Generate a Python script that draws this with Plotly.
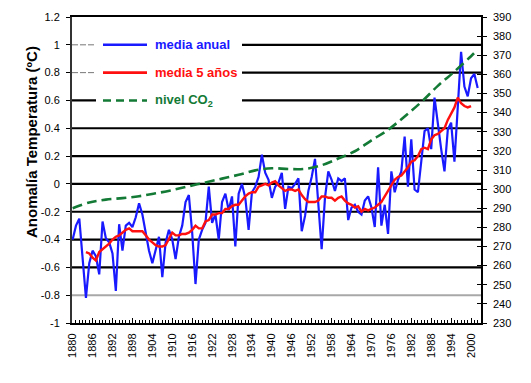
import plotly.graph_objects as go

# ---------------- data ----------------
years = list(range(1880, 2003))
annual = [
    -0.40, -0.30, -0.25, -0.55, -0.82, -0.57, -0.48, -0.52, -0.65, -0.27,
    -0.39, -0.42, -0.50, -0.77, -0.29, -0.48, -0.30, -0.28, -0.31, -0.24,
    -0.14, -0.22, -0.36, -0.48, -0.57, -0.48, -0.38, -0.67, -0.42, -0.33,
    -0.40, -0.54, -0.38, -0.30, -0.13, -0.08, -0.35, -0.72, -0.40, -0.33,
    -0.28, -0.02, -0.28, -0.22, -0.40, -0.13, -0.07, -0.19, -0.09, -0.45,
    -0.07, 0.00, -0.10, -0.33, -0.06, -0.02, 0.05, 0.21, 0.08, 0.03,
    -0.10, -0.02, 0.01, 0.08, -0.18, -0.02, -0.03, 0.00, 0.04, -0.34,
    -0.23, -0.05, 0.05, 0.18, -0.15, -0.47, -0.10, 0.09, 0.03, -0.05,
    0.04, 0.02, 0.04, -0.26, -0.17, -0.15, -0.20, -0.22, -0.12, -0.09,
    -0.17, -0.31, 0.12, -0.30, -0.15, -0.36, 0.09, -0.06, 0.03, 0.09,
    0.34, -0.02, 0.32, -0.04, -0.06, 0.14, 0.38, 0.40, 0.25, 0.62,
    0.42, 0.25, 0.09, 0.39, 0.44, 0.16, 0.55, 0.95, 0.70, 0.63,
    0.76, 0.79, 0.69,
]

years5 = list(range(1884, 2001))
mean5 = [
    -0.49, -0.50, -0.53, -0.55, -0.49, -0.47,
    -0.45, -0.43, -0.40, -0.38, -0.37, -0.35, -0.33, -0.32, -0.34, -0.34,
    -0.34, -0.34, -0.37, -0.40, -0.42, -0.44, -0.45, -0.45, -0.44, -0.40,
    -0.35, -0.37, -0.37, -0.36, -0.36, -0.35, -0.33, -0.30, -0.32, -0.32,
    -0.27, -0.26, -0.22, -0.22, -0.21, -0.21, -0.18, -0.18, -0.16, -0.15,
    -0.15, -0.12, -0.09, -0.07, -0.06, -0.06, -0.02, -0.01, 0.00, -0.01,
    0.01, 0.02, -0.01, -0.03, -0.05, -0.04, -0.04, -0.05, -0.04, -0.08,
    -0.11, -0.13, -0.13, -0.13, -0.12, -0.09, -0.09, -0.10, -0.10, -0.12,
    -0.10, -0.09, -0.12, -0.14, -0.15, -0.17, -0.16, -0.20, -0.18, -0.19,
    -0.18, -0.17, -0.15, -0.13, -0.09, -0.05, -0.02, 0.03, 0.05, 0.06,
    0.09, 0.12, 0.16, 0.17, 0.20, 0.25, 0.26, 0.25, 0.32, 0.35,
    0.36, 0.38, 0.40, 0.46, 0.50, 0.55, 0.62, 0.58, 0.56, 0.55,
    0.56,
]

co2_years = [1880, 1885, 1890, 1895, 1900, 1905, 1910, 1915, 1920, 1925, 1930,
             1935, 1940, 1945, 1950, 1955, 1960, 1965, 1970, 1975, 1980,
             1985, 1990, 1995, 2000, 2002]
co2 = [290.0, 293.0, 294.5, 295.3, 296.3, 297.8, 299.5, 301.5, 303.5, 305.5, 307.5,
       309.8, 310.9, 310.5, 310.6, 312.5, 316.0, 319.8, 325.5, 331.0, 338.0,
       345.5, 354.0, 361.5, 369.5, 373.0]

x_ticks = list(range(1880, 2001, 6))
y_ticks = [-1, -0.8, -0.6, -0.4, -0.2, 0, 0.2, 0.4, 0.6, 0.8, 1, 1.2]
y_tick_text = ["-1", "-0.8", "-0.6", "-0.4", "-0.2", "0", "0.2", "0.4", "0.6", "0.8", "1", "1.2"]
y2_ticks = list(range(230, 391, 10))
grid_black = [-0.6, -0.4, -0.2, 0, 0.2, 0.4, 0.6]
grid_grey = [-0.8]
grid_legend = [1.0, 0.8]

legend_names = ["media anual", "media 5 años", "nivel CO<sub>2</sub>"]
y_title = "Anomalía Temperatura (ºC)"

BLUE = "#1a1aff"
RED = "#ff1010"
GREEN = "#137a36"

# ---------------- figure ----------------
fig = go.Figure()
fig.add_trace(go.Scatter(x=co2_years, y=co2, yaxis="y2", mode="lines",
                         line=dict(color=GREEN, width=2.6, dash="10px,5px", shape="spline"),
                         name=legend_names[2], showlegend=False))
fig.add_trace(go.Scatter(x=years, y=annual, mode="lines",
                         line=dict(color=BLUE, width=2.2),
                         name=legend_names[0], showlegend=False))
fig.add_trace(go.Scatter(x=years5, y=mean5, mode="lines",
                         line=dict(color=RED, width=2.4),
                         name=legend_names[1], showlegend=False))

W, H = 531, 383
L, R, T, B = 72, 50, 17, 60
pw = W - L - R


def px2paper(px):
    return (px - L) / pw


shapes = []
for g in grid_black:
    shapes.append(dict(type="line", xref="paper", x0=0, x1=1, yref="y", y0=g, y1=g,
                       line=dict(color="black", width=2.2), layer="below"))
for g in grid_grey:
    shapes.append(dict(type="line", xref="paper", x0=0, x1=1, yref="y", y0=g, y1=g,
                       line=dict(color="#a8a8a8", width=2), layer="below"))
for g in grid_legend:
    shapes.append(dict(type="line", xref="paper", x0=px2paper(242), x1=1, yref="y", y0=g, y1=g,
                       line=dict(color="black", width=2.2), layer="below"))
    shapes.append(dict(type="line", xref="paper", x0=0, x1=px2paper(96), yref="y", y0=g, y1=g,
                       line=dict(color="#777777", width=1, dash="6px,2px"), layer="below"))
shapes.append(dict(type="rect", xref="paper", x0=px2paper(96), x1=px2paper(242),
                   yref="y", y0=0.52, y1=1.08, fillcolor="white",
                   line=dict(width=0), layer="below"))
leg_colors = [BLUE, RED, GREEN]
leg_dash = ["solid", "solid", "8px,5px"]
leg_y = [1.0, 0.8, 0.6]
annotations = []
for name, c, d, yy in zip(legend_names, leg_colors, leg_dash, leg_y):
    shapes.append(dict(type="line", xref="paper", x0=px2paper(103), x1=px2paper(147),
                       yref="y", y0=yy, y1=yy, line=dict(color=c, width=2.6, dash=d),
                       layer="above"))
    annotations.append(dict(text="<b>%s</b>" % name, xref="paper", x=px2paper(153),
                            xanchor="left", yref="y", y=yy, yanchor="middle",
                            showarrow=False, font=dict(color=c, size=13, family="Arial")))

annotations.append(dict(text="<b>%s</b>" % y_title, xref="paper", x=px2paper(31), xanchor="center",
                        yref="paper", y=(H - B - 142) / (H - T - B), yanchor="middle",
                        textangle=-90, showarrow=False,
                        font=dict(size=15, family="Arial", color="black")))

fig.update_layout(
    width=W, height=H,
    margin=dict(l=L, r=R, t=T, b=B),
    paper_bgcolor="white", plot_bgcolor="white",
    font=dict(family="Arial", size=11, color="black"),
    showlegend=False,
    shapes=shapes,
    annotations=annotations,
    xaxis=dict(range=[1879.8, 2003], tickvals=x_ticks, tickangle=-90,
               ticks="inside", ticklen=5, tickcolor="black",
               minor=dict(dtick=1, tick0=1880, ticks="inside", ticklen=3, tickcolor="black"),
               showline=True, linecolor="black", linewidth=2, mirror=True,
               showgrid=False, zeroline=False, ticklabelstandoff=4,
               tickfont=dict(size=11)),
    yaxis=dict(range=[-1, 1.2], tickvals=y_ticks, ticktext=y_tick_text,
               ticks="outside", ticklen=4, tickcolor="black",
               showline=True, linecolor="#333333", linewidth=2,
               showgrid=False, zeroline=False,
               ticklabelstandoff=4, tickfont=dict(size=11)),
    yaxis2=dict(range=[230, 390], tickvals=y2_ticks, overlaying="y", side="right",
                ticks="outside", ticklen=4, tickcolor="black",
                showline=True, linecolor="black", linewidth=1.5,
                showgrid=False, zeroline=False, ticklabelstandoff=4,
                tickfont=dict(size=11)),
    yaxis3=dict(range=[230, 390], tickvals=y2_ticks, overlaying="y", side="right",
                ticks="inside", ticklen=4, tickcolor="black", showticklabels=False,
                showline=False, showgrid=False, zeroline=False),
)
fig.add_trace(go.Scatter(x=[1990], y=[300], yaxis="y3", mode="markers",
                         marker=dict(opacity=0), showlegend=False, hoverinfo="skip"))

fig.write_html("out.html", config={"displayModeBar": False},
               post_script="document.body.style.margin='0px';document.body.style.overflow='hidden';")
